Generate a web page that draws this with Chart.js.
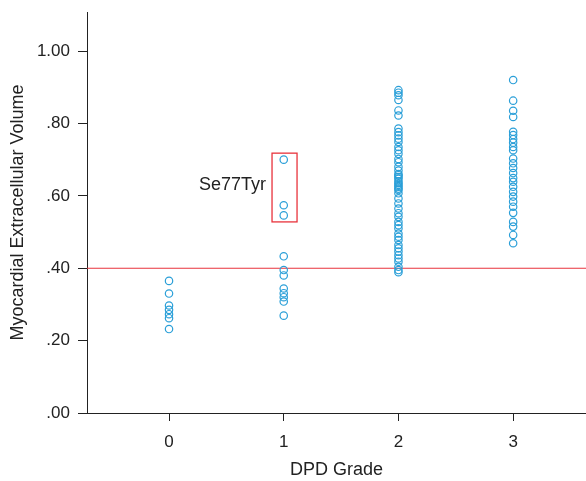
<!DOCTYPE html>
<html><head><meta charset="utf-8">
<script src="https://cdn.jsdelivr.net/npm/chart.js@4/dist/chart.umd.min.js"></script>
<style>html,body{margin:0;padding:0;background:#fff}#w{width:586px;height:481px}</style>
</head><body><div id="w"><canvas id="c" width="586" height="481"></canvas></div>
<script>
const grades = [0, 1, 2, 3];
const gradeLabels = ["0", "1", "2", "3"];
const yTicks = [0, 0.2, 0.4, 0.6, 0.8, 1.0];
const grade0 = [0.365, 0.330, 0.297, 0.285, 0.273, 0.262, 0.232];
const grade1 = [0.700, 0.574, 0.546, 0.433, 0.395, 0.380, 0.344, 0.331, 0.320, 0.308, 0.269];
const grade2 = [0.892, 0.885, 0.878, 0.865, 0.836, 0.822, 0.786, 0.776, 0.767, 0.758, 0.749, 0.735,
  0.726, 0.716, 0.702, 0.693, 0.680, 0.670, 0.660, 0.657, 0.652, 0.647, 0.640, 0.635, 0.630, 0.625,
  0.620, 0.616, 0.607, 0.593, 0.579, 0.565, 0.552, 0.542, 0.528, 0.519, 0.510, 0.496, 0.487, 0.478,
  0.464, 0.455, 0.446, 0.436, 0.427, 0.418, 0.404, 0.395, 0.389];
const grade3 = [0.920, 0.863, 0.835, 0.818, 0.777, 0.768, 0.757, 0.747, 0.735, 0.726, 0.703, 0.690,
  0.677, 0.663, 0.649, 0.639, 0.625, 0.611, 0.598, 0.584, 0.570, 0.553, 0.528, 0.515, 0.492, 0.469];
const threshold = 0.40;
const xRange = [-0.715, 3.635];
const yRange = [0, 1.108];
const boxX = [0.898, 1.116];
const boxY = [0.528, 0.718];
const boxLabel = "Se77Tyr";
const boxLabelPos = [0.845, 0.63];

const series = [grade0, grade1, grade2, grade3];
const pts = [];
series.forEach((arr, i) => arr.forEach(v => pts.push({x: grades[i], y: v})));

const FONT = "'Liberation Sans', Arial, sans-serif";
const BLUE = '#2a9fd8';
const RED = '#e8333c';
const INK = '#222222';

const overlay = {
  id: 'overlay',
  afterDatasetsDraw(chart) {
    const {ctx, scales: {x, y}} = chart;
    ctx.save();
    const x0 = x.getPixelForValue(boxX[0]), x1 = x.getPixelForValue(boxX[1]);
    const y0 = y.getPixelForValue(boxY[1]), y1 = y.getPixelForValue(boxY[0]);
    ctx.strokeStyle = RED; ctx.lineWidth = 1.3;
    ctx.strokeRect(x0, y0, x1 - x0, y1 - y0);
    ctx.fillStyle = INK;
    ctx.font = '18px ' + FONT;
    ctx.textAlign = 'right'; ctx.textBaseline = 'middle';
    ctx.fillText(boxLabel, x.getPixelForValue(boxLabelPos[0]), y.getPixelForValue(boxLabelPos[1]));
    ctx.restore();
  }
};

function noPad(s) { s.paddingTop = 0; s.paddingBottom = 0; s.paddingLeft = 0; s.paddingRight = 0; }

new Chart(document.getElementById('c'), {
  type: 'scatter',
  data: {
    datasets: [
      {
        type: 'line',
        data: [{x: xRange[0], y: threshold}, {x: xRange[1], y: threshold}],
        borderColor: RED, borderWidth: 1.2, pointRadius: 0, fill: false, order: 2
      },
      {
        data: pts,
        pointStyle: 'circle', pointRadius: 3.7, pointBorderWidth: 1.2,
        borderColor: BLUE, backgroundColor: 'rgba(0,0,0,0)', order: 1
      }
    ]
  },
  options: {
    responsive: false, animation: false,
    layout: {autoPadding: false, padding: {top: 12, right: 0, left: 0, bottom: 0}},
    plugins: {legend: {display: false}, tooltip: {enabled: false}},
    scales: {
      x: {
        type: 'linear', min: xRange[0], max: xRange[1],
        afterBuildTicks: s => { s.ticks = grades.map(v => ({value: v})); },
        afterFit: s => { s.height = 68; noPad(s); },
        grid: {drawOnChartArea: false, drawTicks: true, tickLength: 8, color: INK, lineWidth: 1},
        border: {display: true, color: INK, width: 1},
        ticks: {color: INK, font: {family: FONT, size: 17}, padding: 11,
          callback: (v) => gradeLabels[grades.indexOf(v)]},
        title: {display: true, text: 'DPD Grade', color: INK, font: {family: FONT, size: 18}, padding: {top: 7, bottom: 0}}
      },
      y: {
        type: 'linear', min: yRange[0], max: yRange[1],
        afterBuildTicks: s => { s.ticks = yTicks.map(v => ({value: v})); },
        afterFit: s => { s.width = 87; noPad(s); },
        grid: {drawOnChartArea: false, drawTicks: true, tickLength: 9, color: INK, lineWidth: 1},
        border: {display: true, color: INK, width: 1},
        ticks: {color: INK, font: {family: FONT, size: 17}, padding: 8,
          callback: (v) => { const s = v.toFixed(2); return s.startsWith('0') ? s.slice(1) : s; }},
        title: {display: true, text: 'Myocardial Extracellular Volume', color: INK, font: {family: FONT, size: 18}, padding: {top: 7, bottom: 4}}
      }
    }
  },
  plugins: [overlay]
});
</script></body></html>
